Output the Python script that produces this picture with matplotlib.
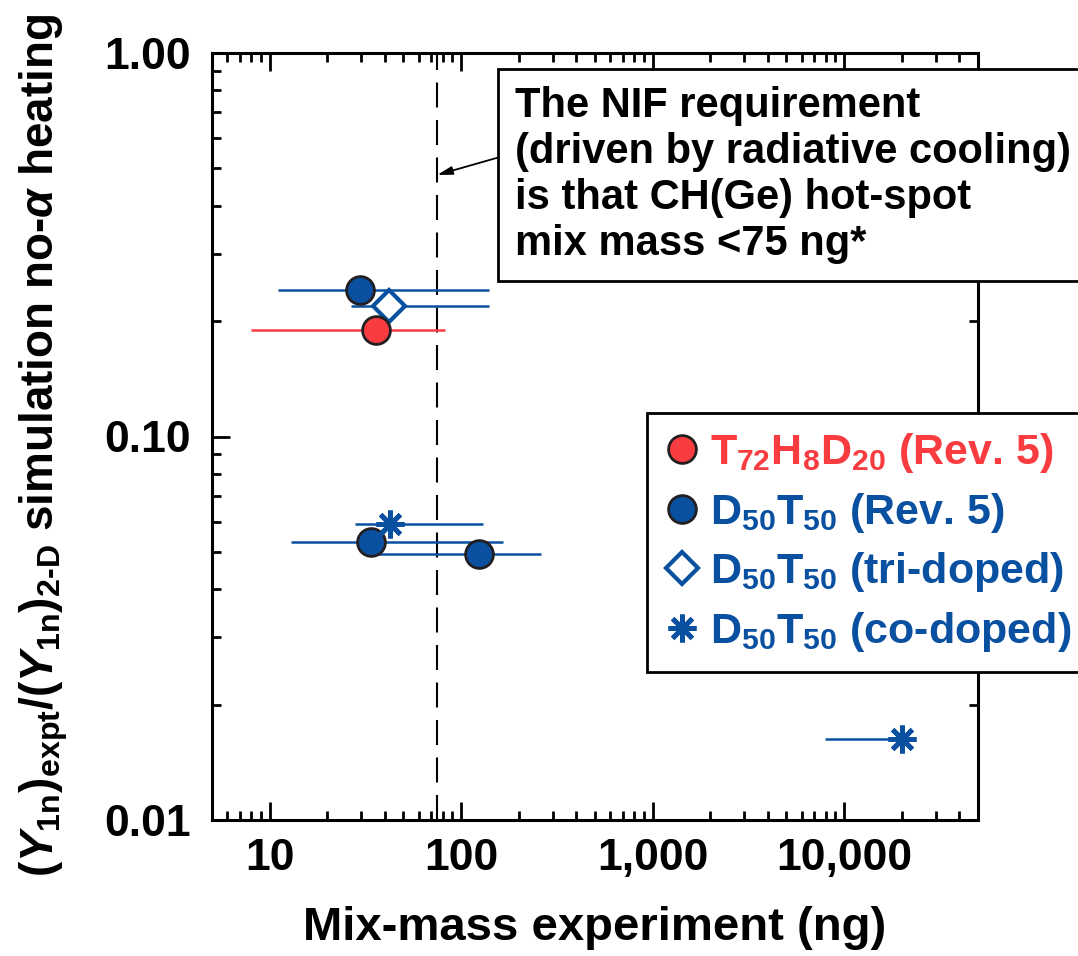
# mix-mass vs yield ratio, NIF requirement chart
import matplotlib
matplotlib.use("Agg")
import matplotlib.pyplot as plt
from matplotlib.ticker import LogLocator, NullFormatter

plt.rcParams.update({
    "font.family": ["Liberation Sans", "DejaVu Sans"],
    "font.weight": "bold",
    "mathtext.fontset": "custom",
    "mathtext.rm": "Liberation Sans:bold",
    "mathtext.it": "Liberation Sans:italic:bold",
    "mathtext.bf": "Liberation Sans:bold",
})

RED, BLUE, EDGE = "#f93c40", "#0a50a1", "#231f20"

# data
thd_x, thd_y = [36], [0.19]
thd_lo, thd_hi = [8], [82]

dt_x, dt_y = [29.5, 34, 124], [0.241, 0.053, 0.0494]
dt_lo, dt_hi = [11, 13, 36], [140, 166, 262]

tri_x, tri_y = [42], [0.219]
tri_lo, tri_hi = [26.5], [140]

co_x, co_y = [42.5, 20100], [0.0591, 0.01626]
co_lo, co_hi = [27.9, 7900], [130, 20100]

nif_limit = 75

xticks = [10, 100, 1000, 10000]
xticklabels = ["10", "100", "1,000", "10,000"]
yticks = [0.01, 0.1, 1.0]
yticklabels = ["0.01", "0.10", "1.00"]

legend_labels = [r"$\mathrm{T_{72}H_{8}D_{20}}$ (Rev. 5)",
                 r"$\mathrm{D_{50}T_{50}}$ (Rev. 5)",
                 r"$\mathrm{D_{50}T_{50}}$ (tri-doped)",
                 r"$\mathrm{D_{50}T_{50}}$ (co-doped)"]

note = ("The NIF requirement\n(driven by radiative cooling)\n"
        "is that CH(Ge) hot-spot\nmix mass <75 ng*")


def xerr(x, lo, hi):
    return [[v - l for v, l in zip(x, lo)], [h - v for v, h in zip(x, hi)]]


fig = plt.figure(figsize=(10.78, 9.56), dpi=100)
W, H = 1078, 956
ax = fig.add_axes([212 / W, 1 - 820 / H, (978 - 212) / W, (820 - 53) / H])
ax.set_xscale("log")
ax.set_yscale("log")
ax.set_xlim(5, 50000)
ax.set_ylim(0.01, 1.0)

ax.axvline(nif_limit, color="black", lw=1.5, dashes=(12, 6), zorder=1)

err_kw = dict(fmt="none", elinewidth=1.8, capsize=0, zorder=2)
ax.errorbar(thd_x, thd_y, xerr=xerr(thd_x, thd_lo, thd_hi), ecolor=RED, **err_kw)
ax.errorbar(dt_x, dt_y, xerr=xerr(dt_x, dt_lo, dt_hi), ecolor=BLUE, **err_kw)
ax.errorbar(tri_x, tri_y, xerr=xerr(tri_x, tri_lo, tri_hi), ecolor=BLUE, **err_kw)
ax.errorbar(co_x, co_y, xerr=xerr(co_x, co_lo, co_hi), ecolor=BLUE, **err_kw)

h1, = ax.plot(tri_x, tri_y, "D", ms=16, mfc="white", mec=BLUE, mew=3, ls="none", zorder=3)
h2, = ax.plot(thd_x, thd_y, "o", ms=20, mfc=RED, mec=EDGE, mew=2, ls="none", zorder=4)
h3, = ax.plot(dt_x, dt_y, "o", ms=20, mfc=BLUE, mec=EDGE, mew=2, ls="none", zorder=4)
h4, = ax.plot(co_x, co_y, marker=(8, 2, 0), ms=20, mec=BLUE, mew=3.5, ls="none", zorder=4)

ax.set_xticks(xticks, xticklabels)
ax.set_yticks(yticks, yticklabels)
ax.xaxis.set_minor_locator(LogLocator(base=10, subs=range(2, 10), numticks=20))
ax.yaxis.set_minor_locator(LogLocator(base=10, subs=range(2, 10), numticks=20))
ax.xaxis.set_minor_formatter(NullFormatter())
ax.yaxis.set_minor_formatter(NullFormatter())
ax.tick_params(which="both", direction="in", top=True, right=True, width=2,
               labelsize=32, colors="black")
ax.tick_params(which="major", length=13)
ax.tick_params(which="minor", length=6.5)
ax.tick_params(axis="x", pad=13)
ax.tick_params(axis="y", pad=15)
for s in ax.spines.values():
    s.set_linewidth(2.2)

fig.text(0.5 * (305 + 885) / W, 1 - 928 / H, "Mix-mass experiment (ng)",
         ha="center", va="center", fontsize=34)
fig.text(44 / W, 1 - 445 / H,
         r"$(\mathit{Y}_{\mathrm{1n}})_{\mathrm{expt}}/(\mathit{Y}_{\mathrm{1n}})_{\mathrm{2\text{-}D}}$"
         r" simulation no-$\alpha$ heating",
         rotation=90, ha="center", va="center", fontsize=33)

ax.text(515 / W, 1 - 86 / H, note, transform=fig.transFigure, ha="left", va="top",
        fontsize=30, linespacing=1.19, zorder=6,
        bbox=dict(boxstyle="square,pad=0.42", fc="white", ec="black", lw=2))
ax.annotate("", xy=(nif_limit, 0.481), xycoords="data",
            xytext=(500 / W, 1 - 157 / H), textcoords="figure fraction",
            arrowprops=dict(arrowstyle="-|>,head_length=0.9,head_width=0.25",
                            color="black", lw=1.3, shrinkA=0, shrinkB=0), zorder=5)

leg = ax.legend([h2, h3, h1, h4], legend_labels, loc="upper left",
                bbox_to_anchor=(647 / W, 1 - 413 / H), bbox_transform=fig.transFigure,
                borderaxespad=0, fontsize=31, frameon=True, fancybox=False,
                edgecolor="black", framealpha=1, handlelength=0.8, handletextpad=0.25,
                labelspacing=0.36, borderpad=0.42,
                labelcolor=[RED, BLUE, BLUE, BLUE])
leg.get_frame().set_linewidth(2)
leg.set_zorder(7)

fig.savefig("out.png", dpi=100)
